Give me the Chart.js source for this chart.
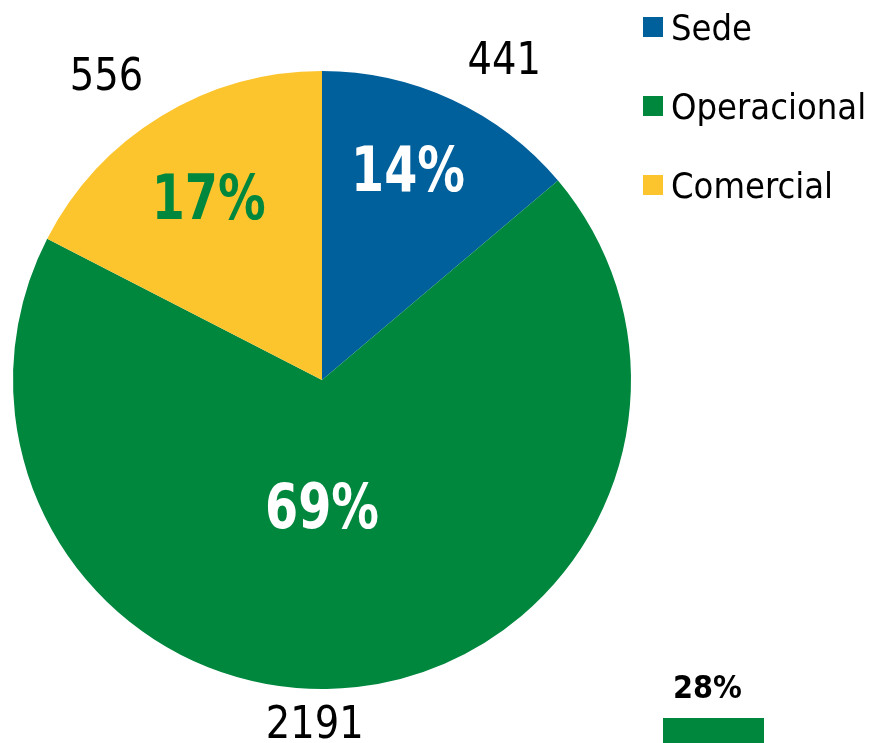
<!DOCTYPE html>
<html>
<head>
<meta charset="utf-8">
<script src="https://cdn.jsdelivr.net/npm/chart.js@4/dist/chart.umd.min.js"></script>
<style>
  html, body { margin: 0; padding: 0; background: #ffffff; }
  #wrap { position: relative; width: 875px; height: 743px; overflow: hidden; }
  #lbl28 { position: absolute; left: 663px; top: 668px; width: 89px; text-align: center; line-height: 32px;
    font: bold 32px "DejaVu Sans Condensed", "DejaVu Sans", sans-serif; color: #000; }
  #bar28 { position: absolute; left: 663px; top: 718px; width: 101px; height: 26px; background: #00873e; }
</style>
</head>
<body>
<div id="wrap">
  <canvas id="pie" width="875" height="743"></canvas>
  <div id="lbl28">28%</div>
  <div id="bar28"></div>
</div>
<script>
const categories = ["Sede", "Operacional", "Comercial"];
const values = [441, 2191, 556];
const percentLabels = ["14%", "69%", "17%"];
const sliceColors = ["#00609c", "#00873e", "#fcc42d"];
const percentColors = ["#ffffff", "#ffffff", "#00873e"];

// where each label sits: fraction of radius and angle shift (deg) from slice middle
const pctPlace = [{ r: 0.74, a: -2.8 }, { r: 0.405, a: 6.5 }, { r: 0.70, a: -0.2 }];
const valPlace = [{ r: 1.198, a: 4.6 }, { r: 1.107, a: 7.7 }, { r: 1.213, a: -3.7 }];

const CAP = 0.73;

const pieLabels = {
  id: 'pieLabels',
  afterDatasetsDraw(chart) {
    const ctx = chart.ctx;
    const arcs = chart.getDatasetMeta(0).data;
    ctx.save();
    ctx.textAlign = 'center';
    ctx.textBaseline = 'alphabetic';
    arcs.forEach((arc, i) => {
      const mid = (arc.startAngle + arc.endAngle) / 2;
      const put = (place, text, font, size, color, sx) => {
        const ang = mid + place.a * Math.PI / 180;
        const x = arc.x + Math.cos(ang) * arc.outerRadius * place.r;
        const y = arc.y + Math.sin(ang) * arc.outerRadius * place.r;
        ctx.save();
        ctx.translate(x, y + size * CAP / 2);
        ctx.scale(sx, 1);
        ctx.font = font;
        ctx.fillStyle = color;
        ctx.fillText(text, 0, 0);
        ctx.restore();
      };
      put(pctPlace[i], percentLabels[i], 'bold 63px "DejaVu Sans Condensed", "DejaVu Sans", sans-serif', 63, percentColors[i], 0.84);
      put(valPlace[i], String(values[i]), '45px "DejaVu Sans Condensed", "DejaVu Sans", sans-serif', 45, '#000000', 0.95);
    });

    // legend
    ctx.textAlign = 'left';
    categories.forEach((name, i) => {
      const cy = 27 + i * 79;
      ctx.fillStyle = sliceColors[i];
      ctx.fillRect(643, cy - 10, 20, 20);
      ctx.fillStyle = '#000000';
      ctx.font = '36px "DejaVu Sans Condensed", "DejaVu Sans", sans-serif';
      ctx.fillText(name, 671, cy + 13);
    });
    ctx.restore();
  }
};

new Chart(document.getElementById('pie'), {
  type: 'pie',
  plugins: [pieLabels],
  data: {
    labels: categories,
    datasets: [{
      data: values,
      backgroundColor: sliceColors,
      borderWidth: 0
    }]
  },
  options: {
    responsive: false,
    animation: false,
    layout: { padding: { left: 13, right: 244, top: 71, bottom: 54 } },
    plugins: {
      legend: { display: false },
      tooltip: { enabled: false }
    }
  }
});
</script>
</body>
</html>
